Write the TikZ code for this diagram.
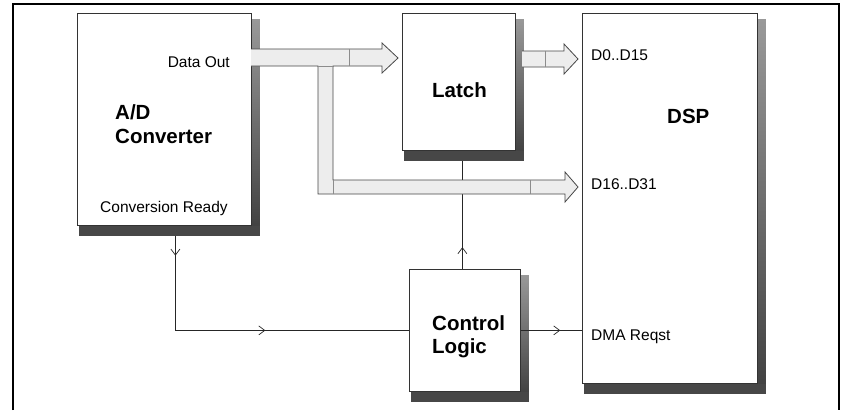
\documentclass[tikz,border=0pt]{standalone}
\usepackage{fontspec}
\setmainfont{Liberation Sans}
\usetikzlibrary{arrows.meta,calc,decorations.markings}
\pgfdeclarelayer{bg}
\pgfsetlayers{bg,main}
\tikzset{
 blk/.style={draw=black!80, fill=white, line width=0.8pt, inner sep=0pt, anchor=north west},
 lbl/.style={font=\fontsize{15.5}{18}\selectfont, inner sep=0pt},
 ttl/.style={font=\fontsize{20.5}{24}\selectfont\bfseries, inner sep=0pt},
 bus/.style={fill=black!7, draw=black!72, line width=0.8pt, line join=miter},
 seam/.style={draw=black!45, line width=0.7pt},
 sig/.style={draw=black!85, line width=0.7pt},
 midarr/.style={postaction={decorate}, decoration={markings, mark=at position #1 with {\arrow{Straight Barb[length=6pt,width=9pt]}}}},
 outerframe/.style={line width=2.3pt}
}
\newcommand\mkshadow[1]{%
 \fill[black!72] ($(#1.south west)+(2,0)$) rectangle ($(#1.south east)+(8,10)$);
 \shade[top color=black!40, bottom color=black!74] ($(#1.north east)+(0,6)$) rectangle ($(#1.south east)+(8,0)$);
}
\begin{document}
\begin{tikzpicture}[x=1pt,y=-1pt]
\useasboundingbox (0,0) rectangle (842,410);
% blocks
\node[blk, minimum width=174, minimum height=212] (ad) at (77,13) {};
\node[blk, minimum width=113, minimum height=137] (latch) at (402,13) {};
\node[blk, minimum width=175, minimum height=370] (dsp) at (582,13) {};
\node[blk, minimum width=111, minimum height=122] (ctrl) at (409,269) {};
% helper coordinates
\coordinate (cl) at ($(ctrl.north)+(-2.5,0)$);
\coordinate (crs) at ($(ad.south)+(11,10)$);
\coordinate (bend) at (crs |- ctrl.west);
\begin{pgfonlayer}{bg}
 \draw[sig, midarr=0.185] (cl) -- (cl |- latch.south);
 \mkshadow{ad}
 \mkshadow{latch}
 \mkshadow{dsp}
 \mkshadow{ctrl}
\end{pgfonlayer}
% buses
\draw[bus] (251,49) -- (382,49) -- (382,43) -- (398,58) -- (382,73) -- (382,66) -- (333,66) -- (333,180) -- (565,180) -- (565,172) -- (578,187) -- (565,202) -- (565,194) -- (318,194) -- (318,66) -- (251,66);
\draw[seam] (318,66) -- (333,66);
\draw[seam] (349,49) -- (349,66);
\draw[seam] (333,180) -- (333,194);
\draw[seam] (530,180) -- (530,194);
\draw[bus] (522,51) -- (564,51) -- (564,44) -- (578,59) -- (564,74) -- (564,67) -- (522,67);
\draw[seam] (545,51) -- (545,67);
% signals
\draw[sig, midarr=0.21] (crs) -- (bend);
\draw[sig, midarr=0.385] (bend) -- (ctrl.west);
\draw[sig, midarr=0.645] (ctrl.east) -- (ctrl.east -| dsp.west);
% texts
\node[lbl, anchor=base east] (tdo) at (230,67) {Data Out};
\node[ttl, anchor=base west] (tad1) at (115,119) {A/D};
\node[ttl, anchor=base west] (tad2) at (115,143) {Converter};
\node[lbl, anchor=base west] (tcr) at (100,212) {Conversion Ready};
\node[ttl, anchor=base west] (tla) at (432,97) {Latch};
\node[ttl, anchor=base west] (tdsp) at (667,123) {DSP};
\node[lbl, anchor=base west] (td0) at (591,60) {D0..D15};
\node[lbl, anchor=base west] (td16) at (591,189) {D16..D31};
\node[lbl, anchor=base west] (tdma) at (591,340) {DMA Reqst};
\node[ttl, anchor=base west] (tc1) at (432,330) {Control};
\node[ttl, anchor=base west] (tc2) at (432,353) {Logic};
% frame
\draw[outerframe] (13,410) -- (13,4) -- (839,4) -- (839,410);
\end{tikzpicture}
\end{document}
